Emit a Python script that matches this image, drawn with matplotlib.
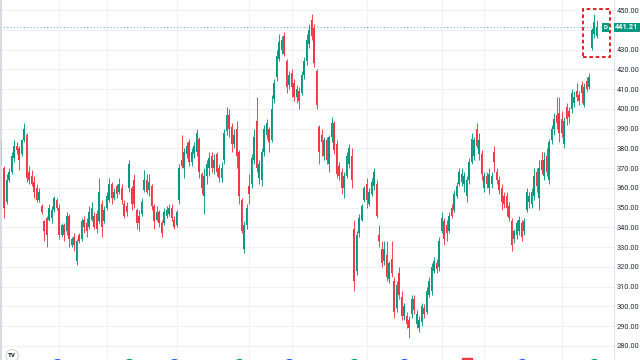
import matplotlib
matplotlib.use('Agg')
import matplotlib.pyplot as plt
from matplotlib.patches import Rectangle
from matplotlib.lines import Line2D

plt.rcParams['font.family'] = ['Roboto', 'DejaVu Sans']

# 日K线数据 (开, 高, 低, 收)
opens = [383, 370, 353, 364, 368, 375, 381, 380, 377, 384,
         387, 368, 366, 363, 360, 354, 351, 343, 345, 344,
         345, 349, 354, 350, 336, 341, 338, 346, 331, 335,
         323, 336, 334, 344, 342, 340, 344, 346, 347, 343,
         352, 343, 350, 354, 362, 355, 361, 358, 360, 352,
         351, 360, 360, 364, 349, 346, 347, 359, 364, 359,
         361, 351, 344, 348, 342, 342, 346, 347, 350, 344,
         341, 354, 374, 370, 377, 383, 373, 377, 378, 385,
         367, 356, 366, 370, 376, 370, 377, 370, 365, 374,
         389, 397, 391, 382, 390, 378, 354, 329, 341, 361,
         362, 374, 394, 365, 364, 378, 387, 390, 384, 405,
         416, 425, 430, 437, 424, 412, 418, 413, 406, 409,
         408, 417, 424, 433, 445, 441, 419, 391, 387, 376,
         384, 372, 386, 393, 382, 371, 368, 360, 366, 372,
         376, 339, 318, 337, 344, 354, 362, 352, 357, 361,
         362, 336, 329, 323, 326, 314, 324, 313, 299, 317,
         305, 295, 295, 293, 296, 304, 291, 289, 292, 299,
         297, 306, 308, 318, 322, 320, 338, 343, 341, 338,
         350, 349, 356, 362, 363, 362, 356, 364, 373, 376,
         390, 377, 377, 360, 366, 360, 362, 378, 368, 364,
         360, 356, 356, 351, 343, 334, 336, 338, 342, 338,
         349, 353, 352, 356, 368, 355, 374, 366, 376, 364,
         384, 390, 397, 398, 395, 382, 401, 399, 400, 403,
         409, 407, 412, 402, 414, 411, 431, 438, 437]
highs = [384, 371, 367, 370, 378, 384, 383, 381, 385, 393,
         388, 371, 369, 366, 362, 360, 352, 344, 346, 352,
         351, 356, 355, 352, 342, 342, 348, 347, 335, 337,
         334, 337, 345, 346, 345, 351, 353, 348, 349, 365,
         354, 351, 358, 365, 363, 360, 362, 365, 362, 354,
         353, 374, 361, 367, 350, 349, 355, 369, 367, 367,
         362, 352, 351, 349, 344, 350, 351, 352, 352, 346,
         349, 372, 387, 380, 383, 385, 380, 383, 390, 386,
         368, 370, 374, 378, 378, 377, 378, 372, 373, 390,
         401, 400, 393, 390, 394, 379, 355, 343, 352, 367,
         377, 390, 406, 374, 380, 392, 395, 391, 407, 415,
         430, 438, 437, 439, 425, 419, 420, 415, 412, 411,
         419, 426, 438, 443, 448, 443, 420, 392, 390, 386,
         386, 387, 396, 394, 384, 373, 370, 368, 378, 382,
         380, 344, 338, 347, 352, 361, 365, 360, 365, 370,
         364, 341, 333, 333, 333, 323, 333, 315, 313, 320,
         308, 302, 297, 295, 306, 306, 298, 295, 302, 301,
         310, 315, 322, 325, 324, 335, 348, 345, 344, 348,
         352, 359, 363, 370, 370, 368, 366, 375, 388, 386,
         393, 388, 379, 368, 368, 370, 368, 381, 370, 366,
         362, 358, 358, 353, 345, 339, 344, 346, 344, 345,
         360, 358, 360, 370, 370, 374, 378, 378, 380, 385,
         392, 398, 406, 406, 399, 396, 403, 401, 410, 409,
         413, 409, 414, 413, 416, 418, 441, 448, 445]
lows = [372, 345, 352, 363, 367, 373, 377, 369, 376, 383,
        363, 362, 361, 355, 353, 353, 347, 333, 330, 343,
        342, 348, 349, 334, 335, 333, 336, 330, 330, 328,
        321, 332, 333, 337, 335, 339, 343, 339, 337, 342,
        335, 342, 349, 353, 352, 354, 355, 357, 352, 345,
        346, 358, 349, 350, 339, 338, 346, 358, 357, 356,
        349, 339, 343, 340, 335, 341, 345, 346, 343, 339,
        340, 352, 370, 365, 375, 371, 371, 375, 376, 365,
        357, 347, 362, 366, 368, 367, 366, 363, 363, 372,
        387, 386, 378, 380, 370, 352, 337, 327, 339, 352,
        360, 372, 368, 362, 361, 376, 385, 378, 383, 403,
        414, 424, 428, 427, 408, 410, 406, 404, 403, 400,
        407, 415, 422, 431, 435, 421, 400, 372, 376, 374,
        372, 368, 383, 377, 365, 364, 357, 355, 365, 370,
        360, 308, 316, 335, 343, 353, 350, 351, 356, 359,
        345, 330, 320, 321, 313, 312, 315, 294, 297, 304,
        293, 293, 289, 284, 294, 296, 289, 287, 290, 294,
        296, 305, 306, 317, 317, 318, 337, 331, 333, 337,
        345, 348, 355, 361, 361, 358, 353, 362, 372, 374,
        380, 374, 364, 358, 360, 357, 360, 368, 362, 357,
        349, 350, 346, 343, 328, 332, 334, 336, 333, 336,
        348, 350, 350, 354, 358, 349, 367, 364, 366, 362,
        382, 387, 390, 383, 386, 380, 392, 393, 398, 401,
        404, 402, 403, 401, 409, 410, 430, 436, 436]
closes = [376, 350, 364, 368, 376, 381, 379, 374, 384, 390,
          365, 364, 362, 358, 354, 358, 348, 338, 336, 350,
          349, 355, 350, 336, 341, 336, 346, 334, 334, 331,
          333, 333, 343, 340, 338, 348, 350, 340, 339, 358,
          340, 349, 356, 362, 355, 358, 357, 362, 354, 346,
          348, 372, 352, 352, 342, 342, 353, 364, 358, 363,
          351, 343, 348, 342, 337, 348, 349, 350, 345, 340,
          348, 370, 371, 378, 381, 373, 378, 381, 388, 368,
          360, 366, 372, 375, 370, 374, 368, 365, 370, 388,
          397, 390, 382, 387, 376, 356, 338, 341, 350, 357,
          375, 386, 370, 372, 378, 390, 393, 383, 400, 413,
          427, 434, 435, 428, 411, 417, 411, 406, 410, 404,
          417, 424, 435, 440, 437, 423, 402, 378, 383, 384,
          374, 386, 393, 379, 367, 366, 360, 366, 376, 380,
          364, 313, 336, 345, 351, 360, 354, 358, 363, 368,
          346, 333, 322, 329, 315, 322, 317, 297, 311, 306,
          295, 300, 291, 289, 304, 298, 296, 293, 300, 296,
          308, 313, 320, 323, 319, 333, 345, 334, 337, 346,
          346, 357, 361, 368, 367, 366, 364, 373, 385, 384,
          381, 384, 367, 366, 362, 367, 366, 373, 364, 359,
          353, 352, 350, 345, 331, 338, 342, 344, 335, 343,
          358, 356, 358, 366, 361, 370, 369, 374, 368, 383,
          390, 395, 393, 388, 388, 394, 395, 396, 408, 406,
          406, 404, 408, 411, 410, 416, 440, 444, 441.21]

# 月份分隔线所在的K线序号
month_start_idx = [23, 42, 70, 99, 116, 146, 176, 193, 224]
# 底部事件标记 (财报 / 分红 / 其他)
earnings_idx = [22, 69, 115, 161, 208]
dividend_idx = [51, 95, 141, 237]
other_idx = [186]

price_ticks = list(range(280, 460, 10))

up_color = '#089981'
down_color = '#f23645'
grid_color = '#f0f1f4'

fig = plt.figure(figsize=(6.4, 3.6), dpi=100)
fig.patch.set_facecolor('white')
ax = fig.add_axes([0, 0, 614 / 640, 1])

n = len(closes)
x = list(range(n))
colors = [up_color if c >= o else down_color for o, c in zip(opens, closes)]

# 影线
ax.vlines(x, lows, highs, colors=colors, linewidth=0.65, zorder=3)
# 实体
bottoms = [min(o, c) for o, c in zip(opens, closes)]
heights = [max(abs(c - o), 0.4) for o, c in zip(opens, closes)]
ax.bar(x, heights, bottom=bottoms, width=0.68, color=colors, linewidth=0, zorder=4)

ax.set_xlim(-0.6, 245)
ax.set_ylim(272.9, 455.1)

last = closes[-1]

# 网格 + 右侧价格刻度 (被最新价标签挡住的刻度不显示)
ax.set_yticks(price_ticks)
ax.set_yticklabels(['' if abs(p - last) < 3 else '{:.2f}'.format(p) for p in price_ticks])
ax.set_xticks(month_start_idx)
ax.set_xticklabels([])
ax.grid(True, color=grid_color, linewidth=0.8, zorder=0)
ax.yaxis.tick_right()
ax.tick_params(axis='y', length=0, pad=1.8, labelsize=5.3, labelcolor='#2a2e39')
ax.tick_params(axis='x', length=0)

for side in ['top', 'left', 'bottom']:
    ax.spines[side].set_visible(False)
ax.spines['right'].set_color('#e0e3eb')
ax.spines['right'].set_linewidth(0.8)

# 最新价
ax.axhline(last, color=up_color, linestyle=(0, (1, 2)), linewidth=0.8, alpha=0.6, zorder=2)
ax.add_patch(Rectangle((1.0, last - 2.3), 0.045, 4.6, transform=ax.get_yaxis_transform(),
                       facecolor=up_color, edgecolor='none', clip_on=False, zorder=6))
ax.text(1.021, last, '{:.2f}'.format(last), transform=ax.get_yaxis_transform(),
        ha='center', va='center', fontsize=5.3, color='white', fontweight='bold', zorder=7, clip_on=False)
ax.add_patch(Rectangle((240.2, last - 2.3), 2.8, 4.6, facecolor=up_color, edgecolor='none', zorder=6))
ax.text(241.6, last, 'D', ha='center', va='center', fontsize=4.5, color='white', fontweight='bold', zorder=7)

# 红色虚线框
ax.add_patch(Rectangle((n - 3 - 3.4, 426.3), 10.8, 24.2, fill=False, edgecolor='#e01010',
                       linestyle=(0, (2, 1.5)), linewidth=1.3, zorder=8))

# 底部事件标记 (只露出顶部)
ax.scatter(earnings_idx, [271.1] * len(earnings_idx), s=50, color='#2962ff', zorder=5)
ax.scatter(dividend_idx, [271.1] * len(dividend_idx), s=50, color='#089981', zorder=5)
ax.scatter(other_idx, [271.3] * len(other_idx), s=60, marker='s', color='#f23645', zorder=5)

# 左边框和 logo
fig.add_artist(Line2D([0.0008, 0.0008], [0, 1], color='#d1d4dc', linewidth=1.2))
fig.text(0.019, 0.012, 'TV', fontsize=4.5, fontweight='bold', color='#131722', ha='center', va='center',
         bbox=dict(boxstyle='circle,pad=0.35', facecolor='white', edgecolor='#c8c8c8', linewidth=0.6))

plt.savefig('out.png', dpi=100)
